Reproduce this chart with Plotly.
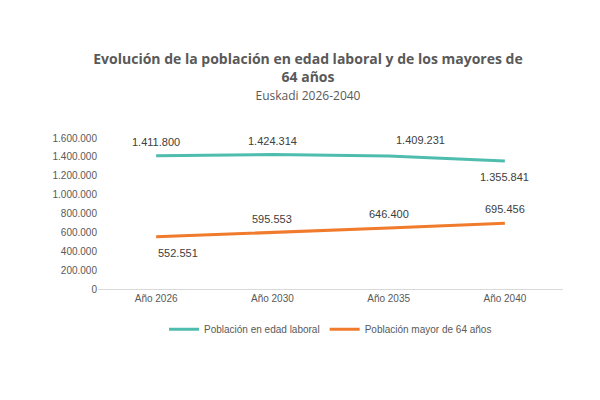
import plotly.graph_objects as go

years = ["Año 2026", "Año 2030", "Año 2035", "Año 2040"]
edad_laboral = [1411800, 1424314, 1409231, 1355841]
mayores_64 = [552551, 595553, 646400, 695456]
tick_vals = [0, 200000, 400000, 600000, 800000, 1000000, 1200000, 1400000, 1600000]
tick_text = ["0", "200.000", "400.000", "600.000", "800.000", "1.000.000",
             "1.200.000", "1.400.000", "1.600.000"]

fig = go.Figure()
fig.add_trace(go.Scatter(
    x=years, y=edad_laboral, name="Población en edad laboral",
    mode="lines", line=dict(color="#4FBDAE", width=3),
))
fig.add_trace(go.Scatter(
    x=years, y=mayores_64, name="Población mayor de 64 años",
    mode="lines", line=dict(color="#F07B2C", width=3),
))

def fmt(v):
    return f"{v:,}".replace(",", ".")

# label offsets (x px, y px)
teal_off = [(0, 14), (0, 14), (32, 16), (0, -16)]
orange_off = [(22, -16), (0, 14), (0, 14), (0, 14)]
for ys, offs in ((edad_laboral, teal_off), (mayores_64, orange_off)):
    for x, y, (dx, dy) in zip(years, ys, offs):
        fig.add_annotation(x=x, y=y, text=fmt(y), showarrow=False,
                           xshift=dx, yshift=dy,
                           font=dict(size=11, color="#404040",
                                     family="Liberation Sans, Arial"))

fig.update_layout(
    width=600, height=400,
    paper_bgcolor="white", plot_bgcolor="white",
    font=dict(family="Liberation Sans, Arial", color="#595959"),
    title=dict(
        text="<b>Evolución de la población en edad laboral y de los mayores de<br>64 años</b>"
             "<br><span style='font-size:12px'>Euskadi 2026-2040</span>",
        x=0.5, xanchor="center", y=0.86, yanchor="top",
        font=dict(size=14, color="#595959", family="Open Sans, Arial"),
    ),
    margin=dict(l=90, r=45, t=130, b=119),
    xaxis=dict(type="category", range=[-0.5, 3.5], showgrid=False,
               showline=True, linecolor="#D9D9D9", ticks="",
               tickfont=dict(size=10, color="#595959")),
    yaxis=dict(range=[0, 1600000], tickvals=tick_vals, ticktext=tick_text,
               showgrid=False, zeroline=False, showline=False,
               tickfont=dict(size=10, color="#595959")),
    legend=dict(orientation="h", x=0.5, xanchor="center", y=-0.17,
                yanchor="top", font=dict(size=10, color="#595959")),
    showlegend=True,
)

fig.write_html("out.html")
